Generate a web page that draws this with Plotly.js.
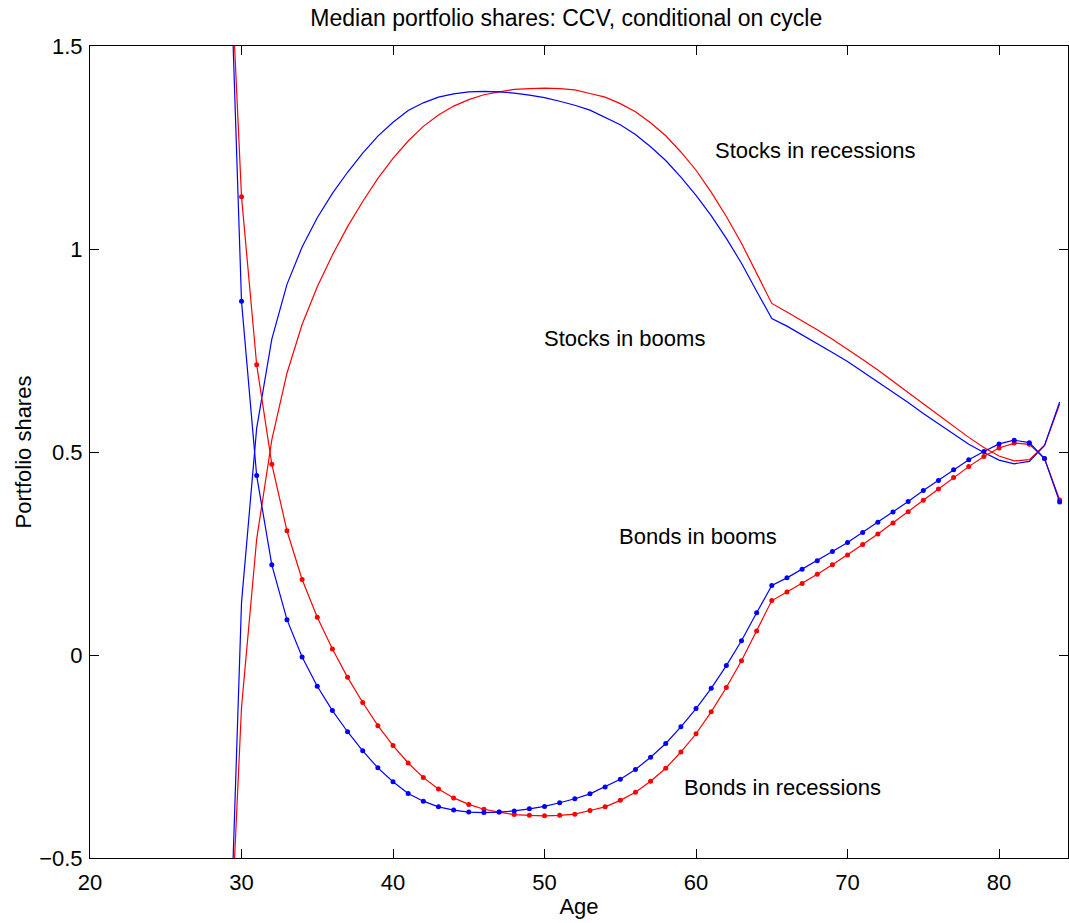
<!DOCTYPE html>
<html>
<head>
<meta charset="utf-8">
<script src="https://cdn.plot.ly/plotly-3.0.1.min.js"></script>
<style>html,body{margin:0;padding:0;background:#fff;}#chart{width:1069px;height:923px;}</style>
</head>
<body>
<div id="chart"></div>
<script>
var ages = [29,30,31,32,33,34,35,36,37,38,39,40,41,42,43,44,45,46,47,48,49,50,51,52,53,54,55,56,57,58,59,60,61,62,63,64,65,66,67,68,69,70,71,72,73,74,75,76,77,78,79,80,81,82,83,84];

var bondsBooms = [2.01,0.871,0.442,0.222,0.087,-0.005,-0.077,-0.137,-0.189,-0.236,-0.278,-0.312,-0.341,-0.360,-0.374,-0.382,-0.387,-0.388,-0.387,-0.384,-0.379,-0.373,-0.364,-0.354,-0.342,-0.325,-0.306,-0.282,-0.252,-0.218,-0.177,-0.132,-0.082,-0.026,0.035,0.104,0.171,0.190,0.211,0.232,0.255,0.277,0.302,0.327,0.352,0.378,0.405,0.430,0.456,0.481,0.501,0.520,0.529,0.523,0.484,0.377];

var bondsRecessions = [1.94,1.129,0.715,0.470,0.306,0.186,0.093,0.015,-0.055,-0.117,-0.174,-0.223,-0.266,-0.302,-0.330,-0.352,-0.368,-0.380,-0.387,-0.393,-0.395,-0.396,-0.395,-0.392,-0.383,-0.374,-0.358,-0.338,-0.311,-0.279,-0.239,-0.194,-0.140,-0.080,-0.014,0.059,0.134,0.155,0.176,0.199,0.222,0.246,0.272,0.298,0.325,0.353,0.381,0.409,0.437,0.464,0.489,0.510,0.522,0.519,0.484,0.382];

var stocksBooms = [-1.01,0.129,0.558,0.778,0.913,1.005,1.077,1.137,1.189,1.236,1.278,1.312,1.341,1.360,1.374,1.382,1.387,1.388,1.387,1.384,1.379,1.373,1.364,1.354,1.342,1.325,1.306,1.282,1.252,1.218,1.177,1.132,1.082,1.026,0.965,0.896,0.829,0.810,0.789,0.768,0.745,0.723,0.698,0.673,0.648,0.622,0.595,0.570,0.544,0.519,0.499,0.480,0.471,0.477,0.516,0.623];

var stocksRecessions = [-0.94,-0.129,0.285,0.530,0.694,0.814,0.907,0.985,1.055,1.117,1.174,1.223,1.266,1.302,1.330,1.352,1.368,1.380,1.387,1.393,1.395,1.396,1.395,1.392,1.383,1.374,1.358,1.338,1.311,1.279,1.239,1.194,1.140,1.080,1.014,0.941,0.866,0.845,0.824,0.801,0.778,0.754,0.728,0.702,0.675,0.647,0.619,0.591,0.563,0.536,0.511,0.490,0.478,0.481,0.516,0.618];

var xTicks = [20,30,40,50,60,70,80];
var yTicks = [-0.5,0,0.5,1,1.5];
var yTickLabels = ['\u22120.5','0','0.5','1','1.5'];

var labels = [
  {text:'Stocks in recessions', x:61.15, y:1.243},
  {text:'Stocks in booms', x:49.8, y:0.780},
  {text:'Bonds in booms', x:54.8, y:0.293},
  {text:'Bonds in recessions', x:59.1, y:-0.327}
];

var RED = '#ff0000', BLUE = '#0000ff';
var FONT = '"Liberation Sans", Arial, Helvetica, sans-serif';
var FS = 22;

var traces = [
  {x:ages, y:stocksRecessions, mode:'lines', line:{color:RED, width:1.2}, name:'Stocks in recessions'},
  {x:ages, y:stocksBooms, mode:'lines', line:{color:BLUE, width:1.2}, name:'Stocks in booms'},
  {x:ages, y:bondsRecessions, mode:'lines+markers', line:{color:RED, width:1.2}, marker:{color:RED, size:5}, name:'Bonds in recessions'},
  {x:ages, y:bondsBooms, mode:'lines+markers', line:{color:BLUE, width:1.2}, marker:{color:BLUE, size:5}, name:'Bonds in booms'}
];

var layout = {
  width:1069, height:923,
  margin:{l:90, r:1, t:46, b:65},
  paper_bgcolor:'#ffffff', plot_bgcolor:'#ffffff',
  showlegend:false,
  font:{family:FONT, size:FS, color:'#000'},
  title:{text:'Median portfolio shares: CCV, conditional on cycle', font:{family:FONT, size:23, color:'#000'}, x:0.487, xref:'paper', xanchor:'center', y:0.981, yref:'container', yanchor:'middle'},
  xaxis:{
    range:[20,84.55], tickvals:xTicks, ticktext:xTicks.map(String),
    ticks:'inside', ticklen:9, tickwidth:1, tickcolor:'#000',
    showline:true, linecolor:'#000', linewidth:1, mirror:'ticks',
    showgrid:false, zeroline:false, ticklabelstandoff:5,
    tickfont:{family:FONT, size:FS, color:'#000'},
    title:{text:'Age', font:{family:FONT, size:FS, color:'#000'}, standoff:4}
  },
  yaxis:{
    range:[-0.5,1.5], tickvals:yTicks, ticktext:yTickLabels,
    ticks:'inside', ticklen:9, tickwidth:1, tickcolor:'#000',
    showline:true, linecolor:'#000', linewidth:1, mirror:'ticks',
    showgrid:false, zeroline:false, ticklabelstandoff:2,
    tickfont:{family:FONT, size:FS, color:'#000'},
    title:{text:'Portfolio shares', font:{family:FONT, size:FS, color:'#000'}, standoff:1}
  },
  annotations: labels.map(function(l){
    return {text:l.text, x:l.x, y:l.y, xref:'x', yref:'y', xanchor:'left', yanchor:'middle', showarrow:false, font:{family:FONT, size:FS, color:'#000'}};
  })
};

Plotly.newPlot('chart', traces, layout, {displayModeBar:false, staticPlot:true});
</script>
</body>
</html>
